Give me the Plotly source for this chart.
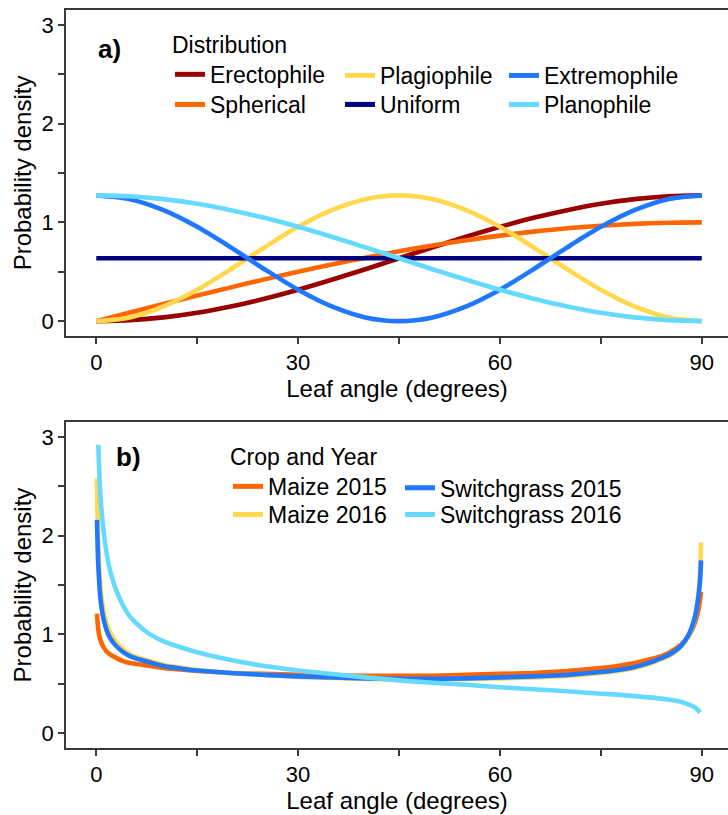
import plotly.graph_objects as go

# ---------------- Panel a: theoretical leaf angle distributions ----------------
angle_a = [0, 5, 10, 15, 20, 25, 30, 35, 40, 45, 50, 55, 60, 65, 70, 75, 80, 85, 90]

erectophile = [0.000, 0.010, 0.038, 0.085, 0.149, 0.227, 0.318, 0.419, 0.526, 0.637,
               0.747, 0.854, 0.955, 1.046, 1.124, 1.188, 1.235, 1.264, 1.273]
spherical = [0.000, 0.087, 0.174, 0.259, 0.342, 0.423, 0.500, 0.574, 0.643, 0.707,
             0.766, 0.819, 0.866, 0.906, 0.940, 0.966, 0.985, 0.996, 1.000]
plagiophile = [0.000, 0.038, 0.149, 0.318, 0.526, 0.747, 0.955, 1.124, 1.235, 1.273,
               1.235, 1.124, 0.955, 0.747, 0.526, 0.318, 0.149, 0.038, 0.000]
uniform = [0.637] * len(angle_a)
extremophile = [1.273, 1.235, 1.124, 0.955, 0.747, 0.526, 0.318, 0.149, 0.038, 0.000,
                0.038, 0.149, 0.318, 0.526, 0.747, 0.955, 1.124, 1.235, 1.273]
planophile = [1.273, 1.264, 1.235, 1.188, 1.124, 1.046, 0.955, 0.854, 0.747, 0.637,
              0.526, 0.419, 0.318, 0.227, 0.149, 0.085, 0.038, 0.010, 0.000]

# ---------------- Panel b: fitted distributions per crop and year ----------------
angle_b = [0.1, 0.25, 0.5, 0.75, 1, 1.5, 2, 2.5, 3, 4, 5, 6, 7, 8, 10, 12.5, 15, 20, 25,
           30, 35, 40, 45, 50, 55, 60, 65, 70, 75, 77.5, 80, 82.5, 84, 85, 86, 87, 88,
           88.5, 89, 89.5, 89.75, 89.9]

maize_2015 = [1.21, 1.08, 0.97, 0.92, 0.88, 0.83, 0.80, 0.78, 0.76, 0.73, 0.71, 0.70,
              0.69, 0.68, 0.66, 0.645, 0.63, 0.61, 0.60, 0.59, 0.585, 0.58, 0.58, 0.58,
              0.59, 0.60, 0.61, 0.63, 0.66, 0.68, 0.71, 0.75, 0.78, 0.81, 0.85, 0.90,
              0.98, 1.04, 1.12, 1.25, 1.35, 1.43]
maize_2016 = [2.58, 2.00, 1.60, 1.40, 1.27, 1.12, 1.03, 0.97, 0.92, 0.85, 0.80, 0.77,
              0.75, 0.73, 0.69, 0.665, 0.64, 0.61, 0.59, 0.57, 0.56, 0.55, 0.545, 0.545,
              0.55, 0.555, 0.565, 0.58, 0.61, 0.63, 0.66, 0.71, 0.75, 0.78, 0.82, 0.88,
              0.98, 1.06, 1.18, 1.42, 1.65, 1.93]
switchgrass_2015 = [2.16, 1.78, 1.45, 1.29, 1.18, 1.05, 0.97, 0.92, 0.88, 0.82, 0.78, 0.755,
                    0.735, 0.715, 0.68, 0.655, 0.635, 0.61, 0.59, 0.575, 0.565, 0.555, 0.55,
                    0.55, 0.555, 0.565, 0.575, 0.59, 0.62, 0.64, 0.67, 0.72, 0.76, 0.79,
                    0.83, 0.89, 0.99, 1.07, 1.18, 1.38, 1.55, 1.75]

angle_sg16 = [0.3, 0.5, 0.75, 1, 1.5, 2, 2.5, 3, 4, 5, 6, 7, 8, 10, 12.5, 15, 20, 25, 30,
              35, 40, 45, 50, 55, 60, 65, 70, 75, 77.5, 80, 82.5, 84, 85, 86, 87, 88,
              88.5, 89, 89.5, 89.75]
switchgrass_2016 = [2.92, 2.55, 2.28, 2.10, 1.84, 1.66, 1.54, 1.44, 1.29, 1.18, 1.11, 1.05,
                    1.00, 0.93, 0.87, 0.82, 0.74, 0.68, 0.635, 0.60, 0.565, 0.535, 0.51,
                    0.49, 0.465, 0.445, 0.425, 0.40, 0.39, 0.375, 0.36, 0.35, 0.34, 0.33,
                    0.315, 0.29, 0.28, 0.26, 0.23, 0.21]

x_ticks = [0, 15, 30, 45, 60, 75, 90]
x_tick_text = ["0", "", "30", "", "60", "", "90"]
y_ticks = [0, 0.5, 1, 1.5, 2, 2.5, 3]
y_tick_text = ["0", "", "1", "", "2", "", "3"]

FONT = "Liberation Sans, Arial, sans-serif"
LW = 4.6

# (name, values, colour, legend id); list order is the drawing order.
# Every legend entry sits in its own legend so the two-row key grid can be placed.
series_a = [
    ("Erectophile", erectophile, "#990000", "legend"),
    ("Spherical", spherical, "#FF6600", "legend4"),
    ("Plagiophile", plagiophile, "#FFD84D", "legend2"),
    ("Uniform", uniform, "#000080", "legend5"),
    ("Extremophile", extremophile, "#1F78FF", "legend3"),
    ("Planophile", planophile, "#66D9FF", "legend6"),
]

series_b = [
    ("Maize 2015", angle_b, maize_2015, "#FF6600", "legend7"),
    ("Maize 2016", angle_b, maize_2016, "#FFD84D", "legend9"),
    ("Switchgrass 2015", angle_b, switchgrass_2015, "#1F78FF", "legend8"),
    ("Switchgrass 2016", angle_sg16, switchgrass_2016, "#66D9FF", "legend10"),
]

fig = go.Figure()

for name, vals, color, leg in series_a:
    fig.add_trace(go.Scatter(
        x=angle_a, y=vals, mode="lines", name=name,
        line=dict(color=color, width=LW, shape="spline", smoothing=0.8),
        xaxis="x", yaxis="y", legend=leg,
    ))

for name, xs, vals, color, leg in series_b:
    fig.add_trace(go.Scatter(
        x=xs, y=vals, mode="lines", name=name,
        line=dict(color=color, width=LW, shape="spline", smoothing=0.4),
        xaxis="x2", yaxis="y2", legend=leg,
    ))

axis_common = dict(
    showline=True, linecolor="#3a3a3a", linewidth=1.8,
    ticks="outside", ticklen=6, tickwidth=1.6, tickcolor="#3a3a3a",
    showgrid=False, zeroline=False,
    tickfont=dict(family=FONT, size=22, color="black"),
)

xaxis_common = dict(
    axis_common, range=[-4.5, 93.9], tickvals=x_ticks, ticktext=x_tick_text,
    mirror=True,
    title=dict(text="Leaf angle (degrees)", font=dict(family=FONT, size=24, color="black"),
               standoff=6),
)
yaxis_common = dict(
    axis_common, range=[-0.15, 3.15], tickvals=y_ticks, ticktext=y_tick_text,
    title=dict(text="Probability density", font=dict(family=FONT, size=24, color="black"),
               standoff=3),
)

LEG_FONT = dict(family=FONT, size=23, color="black")
legend_common = dict(
    orientation="h", xanchor="left", yanchor="top",
    font=LEG_FONT, bgcolor="rgba(0,0,0,0)", borderwidth=0,
    tracegroupgap=0, itemsizing="constant",
)

# key grid positions (paper coordinates)
col_a = [0.1571, 0.4139, 0.6616]
row_a = [0.9404, 0.9011]
title_row_a = 0.9824
col_b = [0.2447, 0.5045]
row_b = [0.3817, 0.3455]
title_row_b = 0.4241

fig.update_layout(
    width=728, height=815,
    margin=dict(l=66, r=0, t=10, b=67),
    paper_bgcolor="white", plot_bgcolor="white",
    font=dict(family=FONT, color="black"),
    xaxis=dict(xaxis_common, domain=[0, 1], anchor="y"),
    yaxis=dict(yaxis_common, domain=[0.5583, 1.0], anchor="x"),
    xaxis2=dict(xaxis_common, domain=[0, 1], anchor="y2"),
    yaxis2=dict(yaxis_common, domain=[0.0, 0.4417], anchor="x2"),
    legend=dict(legend_common, x=col_a[0], y=title_row_a,
                title=dict(text="Distribution", side="top", font=LEG_FONT)),
    legend2=dict(legend_common, x=col_a[1], y=row_a[0]),
    legend3=dict(legend_common, x=col_a[2], y=row_a[0]),
    legend4=dict(legend_common, x=col_a[0], y=row_a[1]),
    legend5=dict(legend_common, x=col_a[1], y=row_a[1]),
    legend6=dict(legend_common, x=col_a[2], y=row_a[1]),
    legend7=dict(legend_common, x=col_b[0], y=title_row_b,
                 title=dict(text="Crop and Year", side="top", font=LEG_FONT)),
    legend8=dict(legend_common, x=col_b[1], y=row_b[0]),
    legend9=dict(legend_common, x=col_b[0], y=row_b[1]),
    legend10=dict(legend_common, x=col_b[1], y=row_b[1]),
    showlegend=True,
    annotations=[
        dict(text="<b>a)</b>", x=0, y=2.76, xref="x", yref="y", xanchor="left",
             yanchor="middle", showarrow=False,
             font=dict(family=FONT, size=26, color="black")),
        dict(text="<b>b)</b>", x=2.7, y=2.8, xref="x2", yref="y2", xanchor="left",
             yanchor="middle", showarrow=False,
             font=dict(family=FONT, size=26, color="black")),
    ],
)

fig.write_html("out.html")
